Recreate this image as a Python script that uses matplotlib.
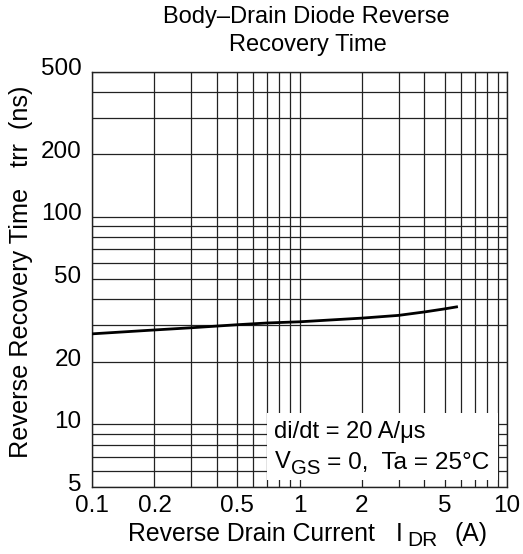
import matplotlib
matplotlib.use("Agg")
import matplotlib.pyplot as plt
from matplotlib.ticker import FixedLocator, NullFormatter, LogLocator
from matplotlib.patches import Rectangle
from matplotlib.transforms import ScaledTranslation

plt.rcParams['font.family'] = ['Liberation Sans', 'DejaVu Sans']

# Data
current = [0.1, 0.2, 0.3, 0.5, 0.7, 1.0, 2.0, 3.0, 4.0, 5.0, 5.8]
trr = [27.3, 28.5, 29.2, 30.2, 30.8, 31.2, 32.5, 33.5, 34.8, 36.0, 36.9]

x_ticks = [0.1, 0.2, 0.5, 1, 2, 5, 10]
x_tick_labels = ["0.1", "0.2", "0.5", "1", "2", "5", "10"]
y_ticks = [5, 10, 20, 50, 100, 200, 500]
y_tick_labels = ["5", "10", "20", "50", "100", "200", "500"]

W, H = 523, 554
fig = plt.figure(figsize=(W / 100, H / 100), dpi=100)
ax = fig.add_axes([92 / W, 1 - 487 / H, 415 / W, 415.5 / H])


def ftext(xpx, ypx, s, **kw):
    """Figure text positioned in pixel coordinates (origin top-left)."""
    return fig.text(xpx / W, 1 - ypx / H, s, **kw)


ax.set_xscale('log')
ax.set_yscale('log')
ax.set_xlim(0.1, 10)
ax.set_ylim(5, 500)

ax.xaxis.set_major_locator(FixedLocator(x_ticks))
ax.set_xticklabels(x_tick_labels)
ax.yaxis.set_major_locator(FixedLocator(y_ticks))
ax.set_yticklabels(y_tick_labels)
ax.xaxis.set_minor_locator(LogLocator(base=10, subs=range(1, 10), numticks=50))
ax.yaxis.set_minor_locator(LogLocator(base=10, subs=range(1, 10), numticks=50))
ax.xaxis.set_minor_formatter(NullFormatter())
ax.yaxis.set_minor_formatter(NullFormatter())

ax.tick_params(which='both', length=0, labelsize=17.5)
ax.tick_params(axis='x', pad=6)
ax.tick_params(axis='y', pad=7.5)

# y tick labels sit a little above their grid lines in the reference
shift = ScaledTranslation(0, 0.048, fig.dpi_scale_trans)
for lab in ax.get_yticklabels():
    lab.set_transform(lab.get_transform() + shift)

ax.grid(True, which='both', color='#222222', linewidth=0.9, zorder=1)
ax.set_axisbelow(True)
for s in ax.spines.values():
    s.set_linewidth(1.0)
    s.set_color('#222222')

ax.plot(current, trr, color='black', linewidth=2.0, zorder=3, solid_capstyle='butt')

# White box for conditions
ax.add_patch(Rectangle((0.421, 0.0168), 0.978 - 0.421, 0.178 - 0.0168,
                       transform=ax.transAxes, facecolor='white',
                       edgecolor='none', zorder=2))

box_fs = 17.0
ftext(274, 438.3, "di/dt = 20 A/\u03bcs", fontsize=box_fs, va='baseline', ha='left', zorder=5)
ftext(274.5, 468.5, "V", fontsize=box_fs, va='baseline', ha='left', zorder=5)
ftext(291.5, 474.3, "GS", fontsize=14.7, va='baseline', ha='left', zorder=5)
ftext(327.0, 468.5, "= 0,  Ta = 25\u00b0C", fontsize=17.6, va='baseline', ha='left', zorder=5)

# Title
ftext(306.5, 23.5, "Body\u2013Drain Diode Reverse", ha='center', va='baseline', fontsize=17.0)
ftext(307.5, 50.5, "Recovery Time", ha='center', va='baseline', fontsize=17.0)

# X label with subscript
lab_fs = 17.8
ftext(128, 541, "Reverse Drain Current", ha='left', va='baseline', fontsize=lab_fs)
ftext(395.5, 541, "I", ha='left', va='baseline', fontsize=lab_fs)
ftext(407.5, 546.5, "DR", ha='left', va='baseline', fontsize=15)
ftext(455, 541, "(A)", ha='left', va='baseline', fontsize=lab_fs)

# Y label
ftext(21, 272, "Reverse Recovery Time   trr  (ns)",
      ha='center', va='center', rotation=90, fontsize=18.2)

fig.savefig("out.png", dpi=100)
